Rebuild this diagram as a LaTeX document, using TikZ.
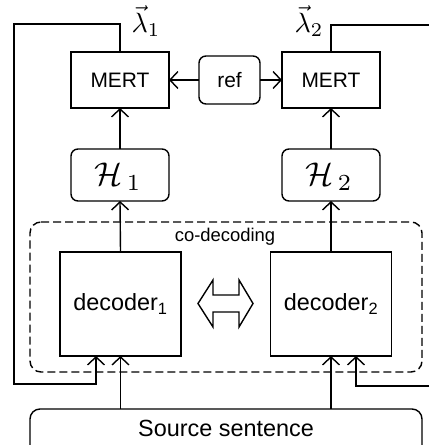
\documentclass[tikz,border=0pt]{standalone}
\usepackage{fontspec}
\setmainfont{Liberation Sans}
\usetikzlibrary{arrows.meta}
\newcommand{\myboxoutline}[2][0bp]{\draw[rounded corners=#1] (#2.north west) -- (#2.north east) -- (#2.south east) -- (#2.south west) -- cycle;}
\begin{document}
\begin{tikzpicture}[x=1bp,y=-1bp,line width=1.4bp,
  >={Straight Barb[length=8bp,width=17bp]},
  sqbox/.style={rectangle,minimum width=98bp,minimum height=56bp,inner sep=0pt,outer sep=0pt,font=\fontsize{21}{24}\selectfont},
  rbox/.style={rectangle,inner sep=0pt,outer sep=0pt},
  decbox/.style={rectangle,minimum width=121bp,minimum height=104bp,inner sep=0pt,outer sep=0pt,font=\fontsize{23.5}{27}\selectfont},
  mathlbl/.style={inner sep=0pt,scale=3.3},
  lam/.style={inner sep=0pt,scale=2.8}]
\useasboundingbox (0,0) rectangle (429,445);
% source sentence
\node[rbox,minimum width=392bp,minimum height=60bp,anchor=north] (src) at (226,409) {};
\myboxoutline[10bp]{src}
\node[font=\fontsize{23.5}{27}\selectfont,inner sep=0pt] (srct) at (226,428) {Source sentence};
% co-decoding region
\draw[dash pattern=on 8bp off 4bp,rounded corners=11bp] (30,222) -- (422,222) -- (422,372) -- (30,372) -- cycle;
\node[font=\fontsize{18.5}{22}\selectfont,inner sep=0pt] (cod) at (225,237) {co-decoding};
% decoders
\node[decbox] (d1) at (120.5,304) {decoder\textsubscript{1}};
\node[decbox] (d2) at (331,304) {decoder\textsubscript{2}};
\myboxoutline{d1}
\myboxoutline{d2}
% H boxes
\node[rbox,minimum width=98bp,minimum height=52bp] (h1) at (120,175) {};
\node[rbox,minimum width=98bp,minimum height=52bp] (h2) at (331,175) {};
\myboxoutline[7bp]{h1}
\myboxoutline[7bp]{h2}
\node[mathlbl] (h1t) at (118,177) {$\mathcal{H}_{\,1}$};
\node[mathlbl] (h2t) at (329,177) {$\mathcal{H}_{\,2}$};
% MERT boxes
\node[sqbox] (m1) at (120,80) {MERT};
\node[sqbox] (m2) at (331,80) {MERT};
\myboxoutline{m1}
\myboxoutline{m2}
% ref
\node[rbox,minimum width=61bp,minimum height=48bp,font=\fontsize{21}{24}\selectfont] (ref) at (229.5,80) {ref};
\myboxoutline[7bp]{ref}
% lambda labels
\node[lam] (l1) at (146,21) {$\vec{\lambda}_1$};
\node[lam] (l2) at (309,21) {$\vec{\lambda}_2$};
% double arrow between decoders
\draw (198,303.5) -- (213,280) -- (213,295) -- (239,295) -- (239,280) -- (253,303.5)
  -- (239,327) -- (239,312) -- (213,312) -- (213,327) -- cycle;
% connectors
\draw[->] (ref.west) -- (m1.east);
\draw[->] (ref.east) -- (m2.west);
\draw[->] (h1.north) -- (m1.south);
\draw[->] (h2.north) -- (m2.south);
\draw[->] (d1.north) -- (h1.south);
\draw[->] (d2.north) -- (h2.south);
\draw[->] (src.north -| d1) -- (d1.south);
\draw[->] (src.north -| d2) -- (d2.south);
\coordinate (fbL) at (96,356);
\coordinate (fbR) at (356,356);
\coordinate (exR1) at (429,25);
\coordinate (exR2) at (429,386);
\draw[->] (m1.north) -- (120,24) -- (14,24) -- (14,384) -- (96,384) -- (fbL);
\draw (m2.north) -- (331,25) -- (exR1);
\draw[->] (exR2) -- (356,386) -- (fbR);
\end{tikzpicture}
\end{document}
